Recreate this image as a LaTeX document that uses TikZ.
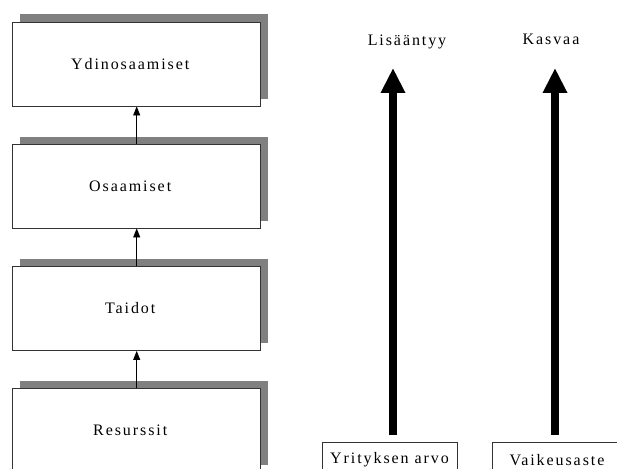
\documentclass[tikz,border=0pt]{standalone}
\usepackage{fontspec}
\newfontfamily\spaced[LetterSpace=12]{Liberation Serif}
\usetikzlibrary{shapes,shadows,arrows.meta}

\begin{document}
\begin{tikzpicture}[x=1pt,y=-1pt,>={Triangle[length=9pt,width=7pt]}]
				\useasboundingbox (0,0) rectangle (617,468);
				\tikzstyle{txt} = [font=\spaced\fontsize{16}{18}\selectfont, inner sep=0pt]
				\tikzstyle{level} = [txt, draw=black!80, line width=0.9pt, fill=white, minimum width=248, minimum height=84, execute at end node={\hspace*{13pt}}, drop shadow={shadow xshift=7pt, shadow yshift=7.5pt, fill=gray, opacity=1}]
				\tikzstyle{tag} = [txt, draw=black!80, line width=0.9pt, minimum height=36]
				\tikzstyle{rise} = [line width=8pt, -{Triangle[length=25pt,width=23pt]}]
				
				\node[level] (Ydin) at (136.7,64) {Ydinosaamiset};
				\node[level] (Osaa) at (136.7,186) {Osaamiset};
				\node[level] (Taid) at (136.7,308.5) {Taidot};
				\node[level] (Resu) at (136.7,430) {Resurssit};
				\draw[->, line width=0.8pt] (Osaa.north) -- (Ydin.south);
				\draw[->, line width=0.8pt] (Taid.north) -- (Osaa.south);
				\draw[->, line width=0.8pt] (Resu.north) -- (Taid.south);
				
				\node[txt] (Lisa) at (407,41.5) {Lisääntyy};
				\node[txt] (Kasv) at (551,39.5) {Kasvaa};
				\node[tag, minimum width=135] (Arvo) at (389.5,460) {Yrityksen arvo};
				\node[tag, minimum width=130] (Vaik) at (557,460) {Vaikeusaste};
				\coordinate (ArvoUp) at (393,435);
				\coordinate (LisaDown) at (393,68);
				\coordinate (VaikUp) at (555,435);
				\coordinate (KasvDown) at (555,68);
				\draw[rise] (ArvoUp) -- (LisaDown);
				\draw[rise] (VaikUp) -- (KasvDown);
\end{tikzpicture}
\end{document}
